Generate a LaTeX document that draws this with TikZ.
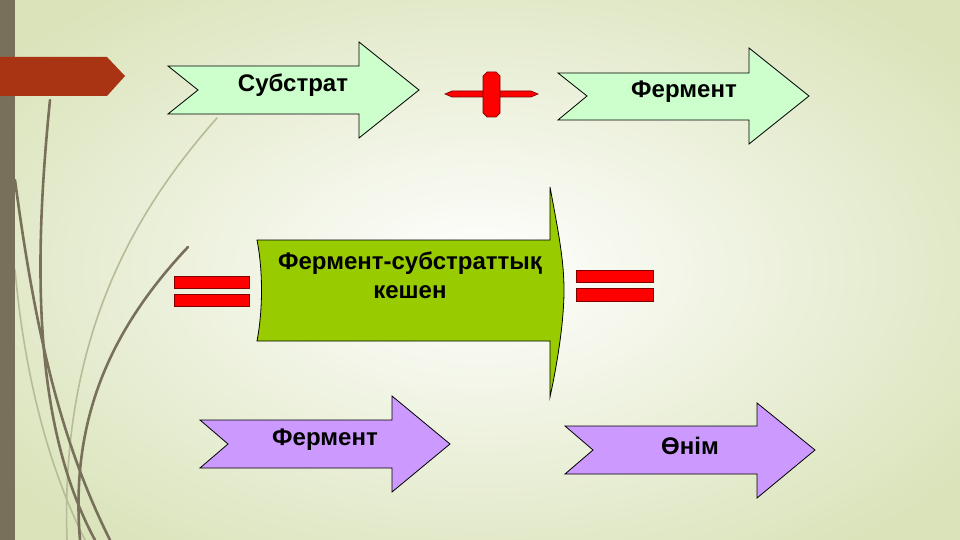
\documentclass[tikz,border=0pt]{standalone}
\usepackage{fontspec}
\setmainfont{Liberation Sans}
\usetikzlibrary{positioning}

\definecolor{paleGreen}{RGB}{204,255,204}
\definecolor{limeGreen}{RGB}{153,204,0}
\definecolor{lilac}{RGB}{204,153,255}
\definecolor{rust}{RGB}{168,52,20}
\definecolor{bark}{RGB}{120,112,90}
\definecolor{bgGreen}{RGB}{218,227,186}

\tikzset{
  Strela/.style={draw=black, line width=0.8pt, line join=miter},
  Znak/.style={fill=red, draw=red!50!black, line width=0.7pt},
  Stebel/.style={draw=bark, line width=2.6pt, line cap=round},
  SlabStebel/.style={draw=bark!35!bgGreen, line width=1.6pt, line cap=round},
  Tekst/.style={font=\bfseries\fontsize{24}{29}\selectfont, align=center, inner sep=0pt}
}

\begin{document}
\begin{tikzpicture}[x=1pt, y=-1pt]
   \useasboundingbox (0,0) rectangle (960,540);
   \shade[inner color=white, outer color=bgGreen] (-120,-80) rectangle (1080,620);

   % grass on the left
   \draw[SlabStebel] (217,118) .. controls (140,205) and (60,330) .. (67,540);
   \draw[SlabStebel] (15,270) .. controls (25,380) and (50,470) .. (85,540);
   \draw[Stebel] (50,100) .. controls (35,250) and (30,420) .. (95,540);
   \draw[Stebel] (15,180) .. controls (35,330) and (60,440) .. (110,540);
   \draw[Stebel] (188,247) .. controls (110,330) and (70,420) .. (80,540);

   \fill[bark] (0,0) rectangle (15,540);
   \fill[rust] (0,57) -- (107,57) -- (125,76) -- (107,96) -- (0,96) -- cycle;

   \draw[Strela, fill=paleGreen] (168,66) -- (359,66) -- (359,42) -- (419,90) -- (359,138) -- (359,114) -- (168,114) -- (198,90) -- cycle;
   \draw[Strela, fill=paleGreen] (558,73) -- (749,73) -- (749,48) -- (809,96) -- (749,144) -- (749,120) -- (558,120) -- (587,96) -- cycle;
   \draw[Strela, fill=limeGreen] (257,240) -- (550,240) -- (550,187)
        .. controls (558,230) and (564,260) .. (564,290)
        .. controls (564,320) and (558,360) .. (550,397)
        -- (550,341) -- (257,341) .. controls (263,310) and (263,270) .. (257,240) -- cycle;
   \draw[Strela, fill=lilac] (200,420) -- (392,420) -- (392,396) -- (450,444) -- (392,492) -- (392,468) -- (200,468) -- (228,444) -- cycle;
   \draw[Strela, fill=lilac] (565,426) -- (757,426) -- (757,403) -- (815,450) -- (757,498) -- (757,474) -- (565,474) -- (593,450) -- cycle;

   \draw[Znak] (445,94) -- (452,91) -- (531,91) -- (538,94) -- (531,97) -- (452,97) -- cycle;
   \draw[Znak] (483,76) -- (487,72) -- (496,72) -- (500,76) -- (500,113) -- (496,117) -- (487,117) -- (483,113) -- cycle;

   \draw[Znak] (174,276) rectangle (249,288);
   \draw[Znak] (174,294) rectangle (249,306);
   \draw[Znak] (576,270) rectangle (653,282);
   \draw[Znak] (576,288) rectangle (653,301);

   \node[Tekst] (substrat) at (293,85) {Субстрат};
   \node[Tekst] (ferment) at (684,92) {Фермент};
   \node[Tekst] (keshen) at (410,275) {Фермент-субстраттық\\кешен};
   \node[Tekst] (ferment2) at (325,440) {Фермент};
   \node[Tekst] (onim) at (690,446) {Өнім};
\end{tikzpicture}
\end{document}
